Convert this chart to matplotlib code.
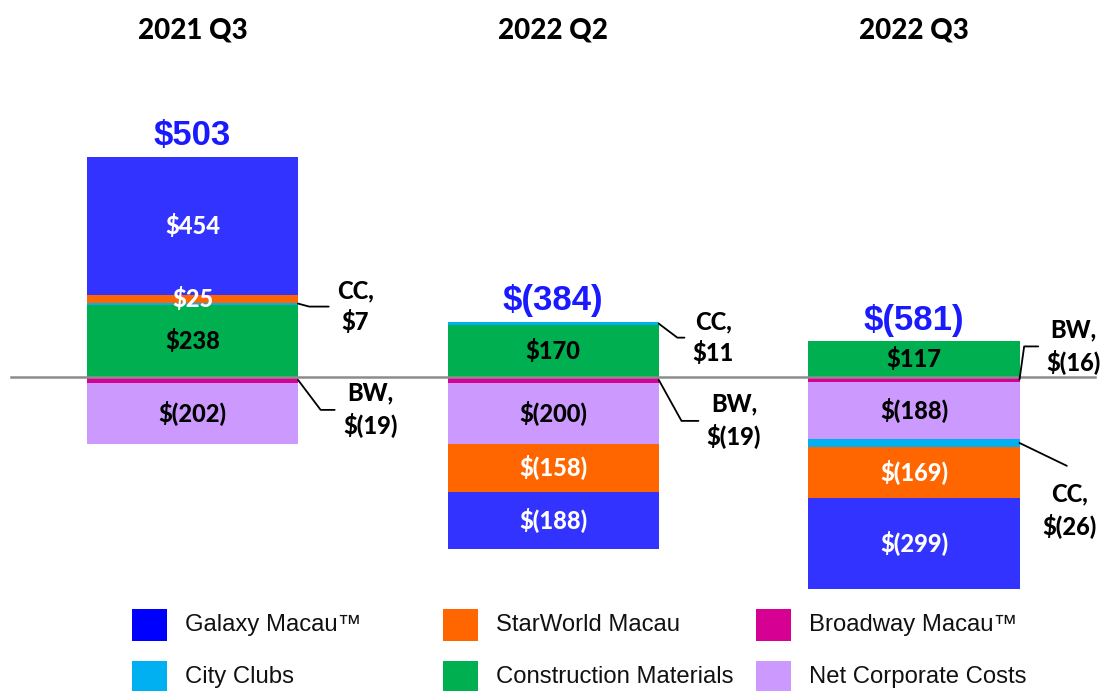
import matplotlib.pyplot as plt
from matplotlib.patches import Rectangle
from matplotlib.transforms import blended_transform_factory

periods = ["2021 Q3", "2022 Q2", "2022 Q3"]
totals = [503, -384, -581]

galaxy = [454, -188, -299]
starworld = [25, -158, -169]
broadway = [-19, -19, -16]
city_clubs = [7, 11, -26]
construction = [238, 170, 117]
corporate = [-202, -200, -188]

series_names = ["Galaxy Macau\u2122", "StarWorld Macau", "Broadway Macau\u2122",
                "City Clubs", "Construction Materials", "Net Corporate Costs"]
series_values = [galaxy, starworld, broadway, city_clubs, construction, corporate]
bar_colors = ["#3333FF", "#FF6600", "#D60093", "#00B0F0", "#00B050", "#CC99FF"]
legend_colors = ["#0000FF", "#FF6600", "#D60093", "#00B0F0", "#00B050", "#CC99FF"]
label_colors = ["white", "white", None, None, "black", "black"]
callout_tags = [None, None, "BW", "CC", None, None]

# stacking order away from zero
stack_order = [2, 4, 5, 3, 1, 0]

BOLD = ["Lato", "DejaVu Sans"]
HEAVY = 900
ARIAL = ["Liberation Sans", "DejaVu Sans"]

W, H = 1110, 691
PX = 0.304          # pixels per $m
ZERO_PX = 377
fig = plt.figure(figsize=(W / 100, H / 100), dpi=100)
ax = fig.add_axes([0, 0, 1, 1])
ax.set_xlim(-0.5336, 2.5433)
ax.set_ylim(-(H - ZERO_PX) / PX, ZERO_PX / PX)
ax.axis("off")

x = list(range(len(periods)))
bar_width = 0.585


def money(v):
    return f"${v}" if v >= 0 else f"$({-v})"


pos_bottom = [0.0] * len(x)
neg_bottom = [0.0] * len(x)
segments = {}
for s in stack_order:
    vals = series_values[s]
    bottoms = [pos_bottom[i] if v >= 0 else neg_bottom[i] for i, v in enumerate(vals)]
    ax.bar(x, vals, width=bar_width, bottom=bottoms, color=bar_colors[s], linewidth=0, zorder=2)
    for i, v in enumerate(vals):
        segments[(s, i)] = bottoms[i] + v / 2
        if v >= 0:
            pos_bottom[i] += v
        else:
            neg_bottom[i] += v

# value labels inside segments
for s, vals in enumerate(series_values):
    if label_colors[s] is None:
        continue
    for i, v in enumerate(vals):
        ax.text(x[i], segments[(s, i)], money(v), ha="center", va="center",
                color=label_colors[s], fontsize=17, fontweight=HEAVY, family=BOLD, zorder=4)

# totals above the bars
for i, t in enumerate(totals):
    ax.annotate(money(t), xy=(x[i], pos_bottom[i]), xytext=(0, 21), textcoords="offset pixels",
                ha="center", va="center", color="#1A1AFF", fontsize=25, fontweight="bold",
                family=ARIAL, zorder=4)

# period titles
trans = blended_transform_factory(ax.transData, ax.transAxes)
for i, p in enumerate(periods):
    ax.text(x[i], 1 - 30 / H, p, transform=trans, ha="center", va="center",
            fontsize=20, fontweight=HEAVY, family=BOLD)

# zero line
ax.axhline(0, xmin=11 / W, xmax=1095 / W, color="#8C8C8C", lw=1.8, zorder=3)

# callouts for thin segments: (series, bar) -> text offset px, angle of leader
callouts = {
    (3, 0): (39, -3, -15),
    (2, 0): (45, -30, -53),
    (3, 1): (34, -14, -37),
    (2, 1): (48, -41, -61),
    (2, 2): (27, 33, 82),
}
for (s, i), (dx, dy, ang) in callouts.items():
    v = series_values[s][i]
    ax.annotate(f"{callout_tags[s]},\n{money(v)}", xy=(x[i] + bar_width / 2, segments[(s, i)]),
                xytext=(dx, dy), textcoords="offset pixels", ha="left", va="center",
                multialignment="center", linespacing=1.4, fontsize=17, fontweight=HEAVY,
                family=BOLD,
                arrowprops=dict(arrowstyle="-", color="black", lw=1.3, patchA=None,
                                relpos=(0, 0.5), shrinkA=6, shrinkB=0,
                                connectionstyle=f"angle,angleA=0,angleB={ang},rad=0"))

# City Clubs in 2022 Q3 has a straight leader to the text below
v = city_clubs[2]
ax.annotate(f"CC,\n{money(v)}", xy=(x[2] + bar_width / 2, segments[(3, 2)]),
            xytext=(50, -68), textcoords="offset pixels", ha="center", va="center",
            multialignment="center", linespacing=1.4, fontsize=17, fontweight=HEAVY,
            family=BOLD,
            arrowprops=dict(arrowstyle="-", color="black", lw=1.3, patchA=None,
                            relpos=(0.45, 1.3), shrinkA=0, shrinkB=0))

# legend, three columns by two rows
col_left = [132, 443, 756]
row_top = [609, 661]
for k, name in enumerate(series_names):
    col, row = k % 3, k // 3
    left, top = col_left[col], row_top[row]
    fig.add_artist(Rectangle((left / W, 1 - (top + 32) / H), 35 / W, 32 / H,
                             transform=fig.transFigure, color=legend_colors[k], lw=0))
    fig.text((left + 53) / W, 1 - (top + 16) / H, name, ha="left", va="center",
             fontsize=17.2, family=ARIAL, color="#111111")

fig.savefig("out.png", dpi=100)
